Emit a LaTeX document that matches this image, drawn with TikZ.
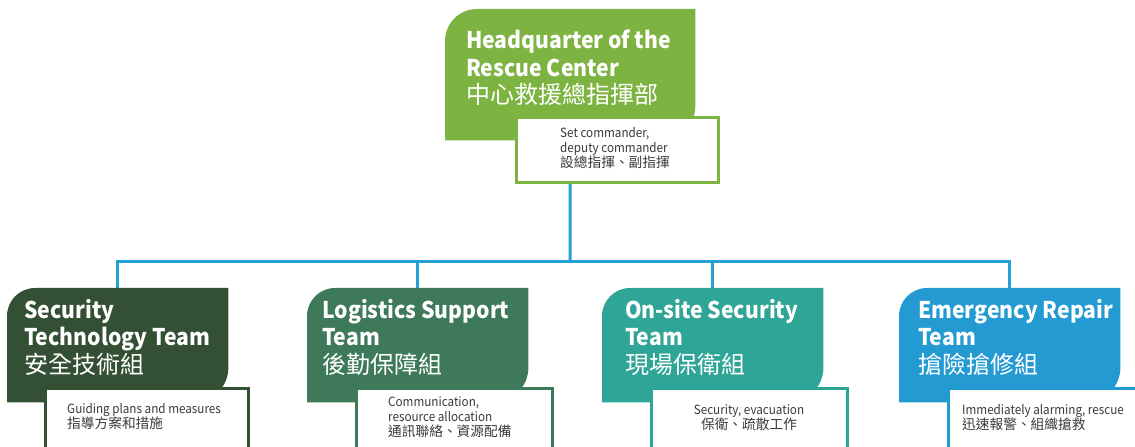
\documentclass[tikz,border=0pt]{standalone}
\usepackage{fontspec}
\setmainfont{Noto Sans CJK TC}[FakeStretch=0.92]
\newfontfamily\cjk{Noto Sans CJK TC}
\usepackage{tikz}
\usetikzlibrary{positioning}
\definecolor{hqgreen}{HTML}{7DB441}
\definecolor{secgreen}{HTML}{345034}
\definecolor{lgsgreen}{HTML}{3E7A5A}
\definecolor{onsteal}{HTML}{2EA596}
\definecolor{emeblue}{HTML}{239BD2}
\definecolor{linkblue}{HTML}{269ED6}
\definecolor{notegray}{HTML}{3A3A3A}
\newcommand{\titlecjk}{\cjk\mdseries\fontsize{24}{27.5}\selectfont}
\newcommand{\notecjk}{\cjk\fontsize{13.7}{15}\selectfont}
% coloured tab: round top left, round bottom right
\newcommand{\tabfill}[3]{\fill[#2] (#1.south west) -- ([yshift=-#3]#1.north west)
  arc[start angle=180,end angle=90,radius=#3] -- (#1.north east) -- ([yshift=35pt]#1.south east)
  arc[start angle=0,end angle=-90,radius=35pt] -- cycle;}

\begin{document}
\begin{tikzpicture}[x=1pt,y=1pt,
  link/.style={draw=linkblue,line width=3pt},
  tab/.style={rectangle,inner sep=0pt,minimum width=221pt,minimum height=114pt,anchor=north west},
  head/.style={text=white,align=left,inner sep=0pt,anchor=north west,
    font=\fontsize{23}{27.5}\selectfont\bfseries},
  notebox/.style={rectangle,fill=white,line width=3pt,inner sep=0pt,anchor=north west,minimum height=90pt},
  note/.style={text=notegray,align=left,inner sep=0pt,anchor=north west,
    font=\fontsize{12.7}{15}\selectfont}]
  \useasboundingbox (0,0) rectangle (1135,447);
  \clip (0,0) rectangle (1135,447);

  % tabs
  \node[tab,minimum width=250pt,minimum height=131pt] (hq) at (445,438) {};
  \node[tab] (sec) at (7,159) {};
  \node[tab] (lgs) at (307,159) {};
  \node[tab] (ons) at (602,159) {};
  \node[tab] (eme) at (899,159) {};
  \coordinate (bus) at (570,185);

  % connectors
  \draw[link] (hq.south) -- (bus);
  \draw[link] (sec.north) |- (bus) -| (eme.north);
  \draw[link] (lgs.north) -- (lgs.north |- bus);
  \draw[link] (ons.north) -- (ons.north |- bus);

  \tabfill{hq}{hqgreen}{32pt}
  \tabfill{sec}{secgreen}{28pt}
  \tabfill{lgs}{lgsgreen}{28pt}
  \tabfill{ons}{onsteal}{28pt}
  \tabfill{eme}{emeblue}{28pt}

  % titles
  \node[head,below right=21pt and 21pt of hq.north west] (hq-t)
    {Headquarter of the\\Rescue Center\\{\titlecjk 中心救援總指揮部}};
  \node[head,below right=11pt and 17pt of sec.north west] (sec-t)
    {Security\\Technology Team\\{\titlecjk 安全技術組}};
  \node[head,below right=11pt and 15pt of lgs.north west] (lgs-t)
    {Logistics Support\\Team\\{\titlecjk 後勤保障組}};
  \node[head,below right=11pt and 23pt of ons.north west] (ons-t)
    {On-site Security\\Team\\{\titlecjk 現場保衛組}};
  \node[head,below right=11pt and 19pt of eme.north west] (eme-t)
    {Emergency Repair\\Team\\{\titlecjk 搶險搶修組}};

  % notes
  \node[notebox,draw=hqgreen,minimum width=202pt,minimum height=65pt] (hqn) at (514.5,330.5) {};
  \node[notebox,draw=secgreen,minimum width=203pt] (secn) at (43.5,59.5) {};
  \node[notebox,draw=lgsgreen,minimum width=196pt] (lgsn) at (354.5,59.5) {};
  \node[notebox,draw=onsteal,minimum width=196pt] (onsn) at (649.5,59.5) {};
  \node[notebox,draw=emeblue,minimum width=200pt] (emen) at (946.5,59.5) {};

  \node[note,below right=11pt and 45.5pt of hqn.north west] (hqn-t)
    {Set commander,\\deputy commander\\{\notecjk 設總指揮、副指揮}};
  \node[note,below right=16pt and 23.5pt of secn.north west] (secn-t)
    {Guiding plans and measures\\{\notecjk 指導方案和措施}};
  \node[note,below right=9pt and 33.5pt of lgsn.north west] (lgsn-t)
    {Communication,\\resource allocation\\{\notecjk 通訊聯絡、資源配備}};
  \node[note,align=center,anchor=north,below=17pt of onsn.north] (onsn-t)
    {Security, evacuation\\{\notecjk 保衛、疏散工作}};
  \node[note,below right=17pt and 15.5pt of emen.north west] (emen-t)
    {Immediately alarming, rescue\\{\notecjk 迅速報警、組織搶救}};
\end{tikzpicture}
\end{document}
